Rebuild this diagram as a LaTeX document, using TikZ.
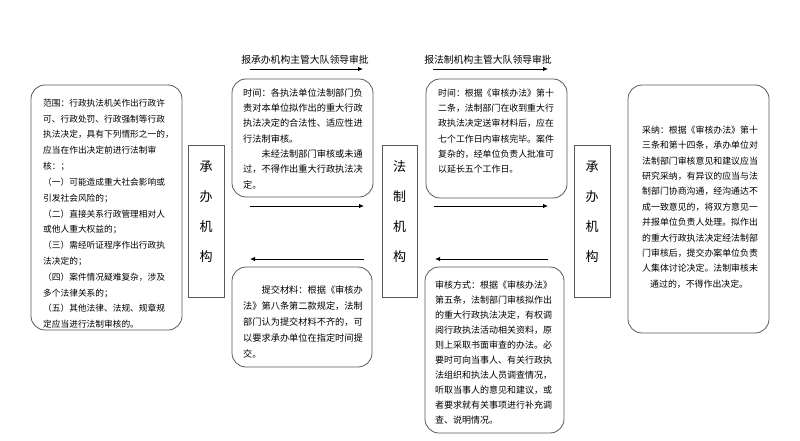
\documentclass[tikz,border=0pt]{standalone}
\usepackage{fontspec}
\setmainfont{Noto Sans CJK SC}
\usetikzlibrary{arrows.meta}
\tikzset{
  rbox/.style={draw=black!65, line width=0.8pt, rounded corners=14pt, inner sep=0pt},
  vbox/.style={draw=black!65, line width=0.8pt, inner sep=0pt},
  vtext/.style={inner sep=0pt, align=center, font=\fontsize{13}{30}\selectfont},
  txt/.style={inner sep=0pt, anchor=base west},
  lbl/.style={inner sep=0pt, font=\fontsize{9.8}{12}\selectfont},
  arr/.style={-{Latex[length=5pt,width=4.5pt]}, line width=0.8pt}
}
\begin{document}
\begin{tikzpicture}[x=1pt,y=-1pt]
\path[use as bounding box] (0,0) rectangle (800,441);

% left box
\node[rbox, minimum width=151pt, minimum height=245pt] (L) at (106.5,207.5) {};
\node[txt] (Lt) at (43,106.4) {\parbox[t]{140pt}{\fontsize{8.7}{15.8}\selectfont
范围：行政执法机关作出行政许\\
可、行政处罚、行政强制等行政\\
执法决定，具有下列情形之一的，\\
应当在作出决定前进行法制审\\
核：；\\
（一）可能造成重大社会影响或\\
引发社会风险的；\\
（二）直接关系行政管理相对人\\
或他人重大权益的；\\
（三）需经听证程序作出行政执\\
法决定的；\\
（四）案件情况疑难复杂，涉及\\
多个法律关系的；\\
（五）其他法律、法规、规章规\\
定应当进行法制审核的。}};

% vertical boxes
\node[vbox, minimum width=36pt, minimum height=152pt] (A1) at (206,221) {};
\node[vtext] (A1t) at (206,212) {承\\办\\机\\构};
\node[vbox, minimum width=35pt, minimum height=152pt] (B2) at (399.5,221) {};
\node[vtext] (B2t) at (399.5,212) {法\\制\\机\\构};
\node[vbox, minimum width=36pt, minimum height=152pt] (C3) at (592,221) {};
\node[vtext] (C3t) at (592,212) {承\\办\\机\\构};

% top labels and arrows
\node[lbl] (T1) at (305,60) {报承办机构主管大队领导审批};
\node[lbl] (T2) at (488,60) {报法制机构主管大队领导审批};
\coordinate (t1a) at (250,69); \coordinate (t1b) at (363,69);
\coordinate (t2a) at (433,69); \coordinate (t2b) at (548,69);
\draw[arr] (t1a) -- (t1b);
\draw[arr] (t2a) -- (t2b);

% middle arrows
\coordinate (m1a) at (250,206); \coordinate (m1b) at (364,206);
\coordinate (m2a) at (364,259); \coordinate (m2b) at (250,259);
\coordinate (m3a) at (434,206); \coordinate (m3b) at (548,206);
\coordinate (m4a) at (548,259); \coordinate (m4b) at (435,259);
\draw[arr] (m1a) -- (m1b);
\draw[arr] (m2a) -- (m2b);
\draw[arr] (m3a) -- (m3b);
\draw[arr] (m4a) -- (m4b);

% top middle box
\node[rbox, minimum width=141pt, minimum height=118pt] (M1) at (302.5,138) {};
\node[txt] (M1t) at (243,96.4) {\parbox[t]{130pt}{\fontsize{9.2}{15.3}\selectfont
时间：各执法单位法制部门负\\
责对本单位拟作出的重大行政\\
执法决定的合法性、适应性进\\
行法制审核。\\
\hspace*{2em}未经法制部门审核或未通\\
过，不得作出重大行政执法决\\
定。}};

% bottom middle box
\node[rbox, minimum width=140pt, minimum height=100pt] (M2) at (302,317) {};
\node[txt] (M2t) at (243,293.4) {\parbox[t]{130pt}{\fontsize{9.2}{16}\selectfont
\hspace*{2em}提交材料：根据《审核办\\
法》第八条第二款规定，法制\\
部门认为提交材料不齐的，可\\
以要求承办单位在指定时间提\\
交。}};

% top right-middle box
\node[rbox, minimum width=141pt, minimum height=119pt] (M3) at (496.5,138.5) {};
\node[txt] (M3t) at (438,96.4) {\parbox[t]{130pt}{\fontsize{8.9}{15.3}\selectfont
时间：根据《审核办法》第十\\
二条，法制部门在收到重大行\\
政执法决定送审材料后，应在\\
七个工作日内审核完毕。案件\\
复杂的，经单位负责人批准可\\
以延长五个工作日。}};

% bottom right-middle box
\node[rbox, minimum width=139pt, minimum height=166pt] (M4) at (494.5,350) {};
\node[txt] (M4t) at (435,288.4) {\parbox[t]{130pt}{\fontsize{9}{15}\selectfont
审核方式：根据《审核办法》\\
第五条，法制部门审核拟作出\\
的重大行政执法决定，有权调\\
阅行政执法活动相关资料，原\\
则上采取书面审查的办法。必\\
要时可向当事人、有关行政执\\
法组织和执法人员调查情况，\\
听取当事人的意见和建议，或\\
者要求就有关事项进行补充调\\
查、说明情况。}};

% right box
\node[rbox, minimum width=141pt, minimum height=248pt] (R) at (698.5,209) {};
\node[txt] (Rt) at (642,133.4) {\parbox[t]{130pt}{\fontsize{8.9}{15.4}\selectfont
采纳：根据《审核办法》第十\\
三条和第十四条，承办单位对\\
法制部门审核意见和建议应当\\
研究采纳，有异议的应当与法\\
制部门协商沟通，经沟通达不\\
成一致意见的，将双方意见一\\
并报单位负责人处理。拟作出\\
的重大行政执法决定经法制部\\
门审核后，提交办案单位负责\\
人集体讨论决定。法制审核未\\
\hspace*{8pt}通过的，不得作出决定。}};
\end{tikzpicture}
\end{document}
